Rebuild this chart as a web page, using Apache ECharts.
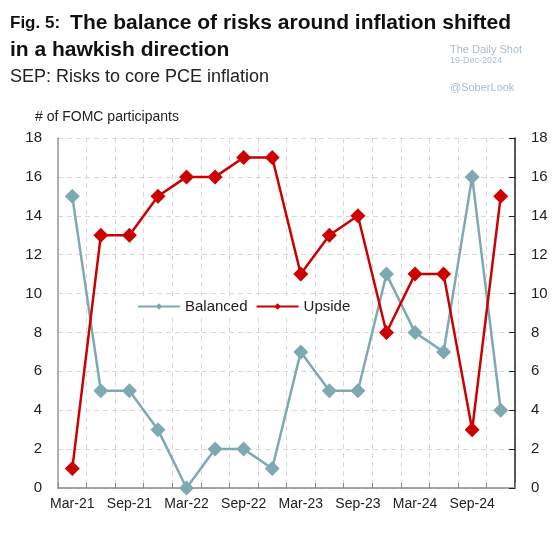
<!DOCTYPE html>
<html>
<head>
<meta charset="utf-8">
<script src="https://cdn.jsdelivr.net/npm/echarts@6/dist/echarts.min.js"></script>
<style>
  html, body { margin: 0; padding: 0; background: #fff; }
  #chart { width: 560px; height: 535px; }
</style>
</head>
<body>
<div id="chart"></div>
<script>
// quarterly SEP releases
var categories = ['Mar-21', 'Jun-21', 'Sep-21', 'Dec-21', 'Mar-22', 'Jun-22', 'Sep-22', 'Dec-22',
  'Mar-23', 'Jun-23', 'Sep-23', 'Dec-23', 'Mar-24', 'Jun-24', 'Sep-24', 'Dec-24']
var balanced = [15, 5, 5, 3, 0, 2, 2, 1, 7, 5, 5, 11, 8, 7, 16, 4]
var upside = [1, 13, 13, 15, 16, 16, 17, 17, 11, 13, 14, 8, 11, 11, 3, 15]

var teal = '#7fa9b2'
var red = '#cc0000'
var font = 'Liberation Sans, Arial, sans-serif'

var myChart = echarts.init(document.getElementById('chart'))

var yAxisBase = {
  type: 'value',
  min: 0,
  max: 18,
  interval: 2,
  axisLabel: { fontFamily: font, fontSize: 15, color: '#222' }
}

var option = {
  backgroundColor: '#fff',
  animation: false,
  title: [
    {
      text: '{a|Fig. 5:}  {b|The balance of risks around inflation shifted}\n{b|in a hawkish direction}',
      left: 5,
      top: 5,
      textStyle: {
        rich: {
          a: { fontFamily: font, fontSize: 17, fontWeight: 'bold', color: '#111', lineHeight: 27 },
          b: { fontFamily: font, fontSize: 21, fontWeight: 'bold', color: '#111', lineHeight: 27 }
        }
      }
    },
    {
      text: 'SEP: Risks to core PCE inflation',
      left: 5,
      top: 63,
      textStyle: { fontFamily: font, fontSize: 18, fontWeight: 'normal', color: '#222' }
    },
    {
      text: '# of FOMC participants',
      left: 30,
      top: 105,
      textStyle: { fontFamily: font, fontSize: 14, fontWeight: 'normal', color: '#222' }
    },
    {
      text: 'The Daily Shot',
      left: 445,
      top: 39,
      textStyle: { fontFamily: font, fontSize: 11, fontWeight: 'normal', color: '#a9bccb' }
    },
    {
      text: '19-Dec-2024',
      left: 445,
      top: 51,
      textStyle: { fontFamily: font, fontSize: 9, fontWeight: 'normal', color: '#a9bccb' }
    },
    {
      text: '@SoberLook',
      left: 445,
      top: 77,
      textStyle: { fontFamily: font, fontSize: 11, fontWeight: 'normal', color: '#a9bccb' }
    }
  ],
  legend: {
    data: ['Balanced', 'Upside'],
    left: 133,
    top: 297,
    backgroundColor: '#fff',
    padding: [2, 4],
    itemWidth: 42,
    itemHeight: 8,
    itemGap: 8,
    textStyle: { fontFamily: font, fontSize: 15, color: '#222' }
  },
  grid: {
    left: 58,
    right: 45,
    top: 138,
    bottom: 47
  },
  xAxis: {
    type: 'category',
    data: categories,
    boundaryGap: true,
    axisLine: { lineStyle: { color: '#888', width: 1.5 } },
    axisTick: { show: true, inside: true, length: 5, interval: 0, lineStyle: { color: '#888' } },
    splitLine: { show: true, interval: 0, lineStyle: { color: '#d8d8d8', type: [5, 4] } },
    axisLabel: { interval: 1, fontFamily: font, fontSize: 14, color: '#222', margin: 9 }
  },
  yAxis: [
    Object.assign({}, yAxisBase, {
      position: 'left',
      axisLine: { show: true, lineStyle: { color: '#999', width: 1.5 } },
      axisTick: { show: false },
      splitLine: { show: true, lineStyle: { color: '#d8d8d8', type: [5, 4] } },
      axisLabel: Object.assign({}, yAxisBase.axisLabel, { margin: 16 })
    }),
    Object.assign({}, yAxisBase, {
      position: 'right',
      axisLine: { show: true, lineStyle: { color: '#222', width: 1.5 } },
      axisTick: { show: true, inside: true, length: 6, lineStyle: { color: '#222' } },
      splitLine: { show: false },
      axisLabel: Object.assign({}, yAxisBase.axisLabel, { margin: 16 })
    })
  ],
  series: [
    {
      name: 'Balanced',
      type: 'line',
      data: balanced,
      color: teal,
      symbol: 'diamond',
      symbolSize: 15,
      lineStyle: { width: 2.5, color: teal },
      itemStyle: { color: teal },
      z: 2
    },
    {
      name: 'Upside',
      type: 'line',
      data: upside,
      color: red,
      symbol: 'diamond',
      symbolSize: 15,
      lineStyle: { width: 2.5, color: red },
      itemStyle: { color: red },
      z: 3
    }
  ]
}

myChart.setOption(option)
</script>
</body>
</html>
